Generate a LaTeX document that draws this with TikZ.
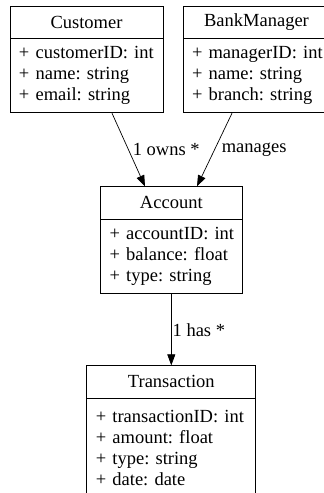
\documentclass[tikz,border=0pt]{standalone}
\usepackage{fontspec}
\setmainfont{Liberation Serif}
\usetikzlibrary{arrows.meta}
\frenchspacing

\tikzset{
  titulo/.style={draw, line width=0.8pt, inner sep=0pt, minimum height=32pt},
  atributos/.style={draw, line width=0.8pt, align=left, inner xsep=9pt, inner ysep=0pt, minimum height=74pt, anchor=north},
  assoc/.style={-{Triangle[length=11pt,width=8pt]}, line width=0.7pt},
  rotulo/.style={inner sep=1pt, anchor=west}
}
\newcommand{\attr}[1]{\mbox{+ #1}}

\begin{document}
\begin{tikzpicture}[x=1pt, y=-1pt, font=\fontsize{18.5}{21}\selectfont]
\useasboundingbox (0,0) rectangle (324,493);
% Classes
\node[titulo, minimum width=153pt] (customer) at (86.5,22) {Customer};
\node[atributos, text width=135pt] (customerAttr) at (customer.south) {\attr{customerID: int}\\\attr{name: string}\\\attr{email: string}};
\node[titulo, minimum width=147pt] (manager) at (256.5,22) {BankManager};
\node[atributos, text width=129pt] (managerAttr) at (manager.south) {\attr{managerID: int}\\\attr{name: string}\\\attr{branch: string}};
\node[titulo, minimum width=141.3pt, minimum height=32.3pt] (account) at (171.3,202.9) {Account};
\node[atributos, text width=123.3pt] (accountAttr) at (account.south) {\attr{accountID: int}\\\attr{balance: float}\\\attr{type: string}};
\node[titulo, minimum width=169pt, minimum height=32.3pt] (transaction) at (171.3,381.9) {Transaction};
\node[atributos, text width=151pt, minimum height=98pt] (transactionAttr) at (transaction.south) {\attr{transactionID: int}\\\attr{amount: float}\\\attr{type: string}\\\attr{date: date}};
% Associações
\draw[assoc] ([xshift=25.5pt]customerAttr.south) -- ([xshift=-26.3pt]account.north)
  node[rotulo, midway, xshift=3pt] {1 owns *};
\draw[assoc] ([xshift=-24.5pt]managerAttr.south) -- ([xshift=25.7pt]account.north)
  node[rotulo, midway, xshift=6pt] {manages};
\draw[assoc] (accountAttr.south) -- (transaction.north)
  node[rotulo, midway] {1 has *};
\end{tikzpicture}
\end{document}
